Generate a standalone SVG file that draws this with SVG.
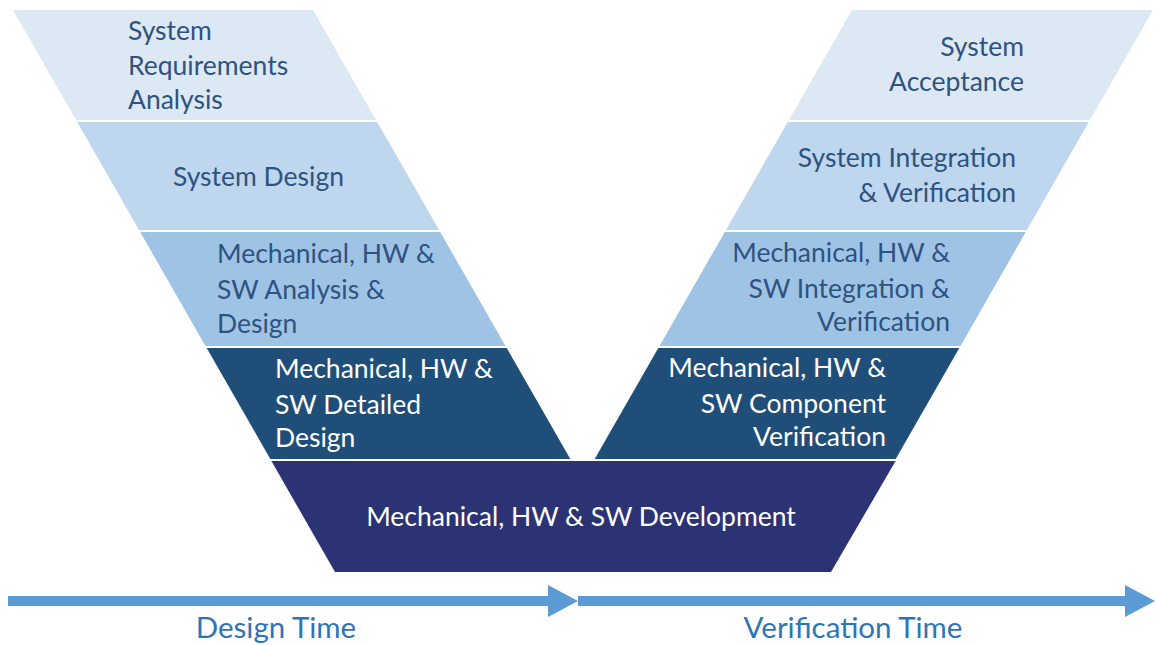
<svg xmlns="http://www.w3.org/2000/svg" width="1158" height="645" viewBox="0 0 1158 645">
<style>
text{font-family:Lato,"Open Sans","Liberation Sans",sans-serif;font-size:26.5px}
.d{fill:#2f5380}
.w{fill:#ffffff}
.r{text-anchor:end}
.m{text-anchor:middle}
.c1{fill:#dce8f4}
.c2{fill:#bed6ee}
.c3{fill:#9fc3e5}
.c4{fill:#1f4e79}
.c5{fill:#2c3374}
.lab{fill:#2e75b6;font-size:29.5px}
</style>
<rect width="1158" height="645" fill="#ffffff"/>
<g id="sys-req">
<polygon class="c1" points="13,10 313,10 376,120 76,120"/>
<text class="d" x="128" y="40">System</text>
<text class="d" x="128" y="75">Requirements</text>
<text class="d" x="128" y="109">Analysis</text>
</g>
<g id="sys-design">
<polygon class="c2" points="77.2,122 377.2,122 439.1,230 139.1,230"/>
<text class="d" x="173" y="186">System Design</text>
</g>
<g id="mhs-analysis">
<polygon class="c3" points="140.2,232 440.2,232 505.5,346 205.5,346"/>
<text class="d" x="217" y="263">Mechanical, HW &amp;</text>
<text class="d" x="217" y="299">SW Analysis &amp;</text>
<text class="d" x="217" y="333">Design</text>
</g>
<g id="mhs-detailed">
<polygon class="c4" points="206.7,348 506.7,348 570.3,459 270.3,459"/>
<text class="w" x="275" y="378">Mechanical, HW &amp;</text>
<text class="w" x="275" y="414">SW Detailed</text>
<text class="w" x="275" y="447">Design</text>
</g>
<g id="development">
<polygon class="c5" points="271.4,461 895.6,461 831,572 335,572"/>
<text class="w m" x="581" y="526">Mechanical, HW &amp; SW Development</text>
</g>
<g id="sys-accept">
<polygon class="c1" points="852,10 1153,10 1090,120 789,120"/>
<text class="d r" x="1024" y="56">System</text>
<text class="d r" x="1024" y="91">Acceptance</text>
</g>
<g id="sys-integ">
<polygon class="c2" points="787.8,122 1088.8,122 1026.9,230 725.9,230"/>
<text class="d r" x="1016" y="167">System Integration</text>
<text class="d r" x="1016" y="202">&amp; Verification</text>
</g>
<g id="mhs-integ">
<polygon class="c3" points="724.8,232 1025.8,232 960.5,346 659.5,346"/>
<text class="d r" x="950" y="262">Mechanical, HW &amp;</text>
<text class="d r" x="950" y="298">SW Integration &amp;</text>
<text class="d r" x="950" y="331">Verification</text>
</g>
<g id="mhs-component">
<polygon class="c4" points="658.3,348 959.3,348 895.7,459 594.7,459"/>
<text class="w r" x="886" y="377">Mechanical, HW &amp;</text>
<text class="w r" x="886" y="413">SW Component</text>
<text class="w r" x="886" y="446">Verification</text>
</g>
<g id="connectors">
<polygon fill="#5b9bd5" points="8,596 548,596 548,585 578,601 548,617 548,606 8,606"/>
<polygon fill="#5b9bd5" points="578,596 1125,596 1125,585 1155,601 1125,617 1125,606 578,606"/>
</g>
<g id="design-time">
<text class="lab m" x="276" y="638">Design Time</text>
</g>
<g id="verif-time">
<text class="lab m" x="853" y="638">Verification Time</text>
</g>
</svg>
